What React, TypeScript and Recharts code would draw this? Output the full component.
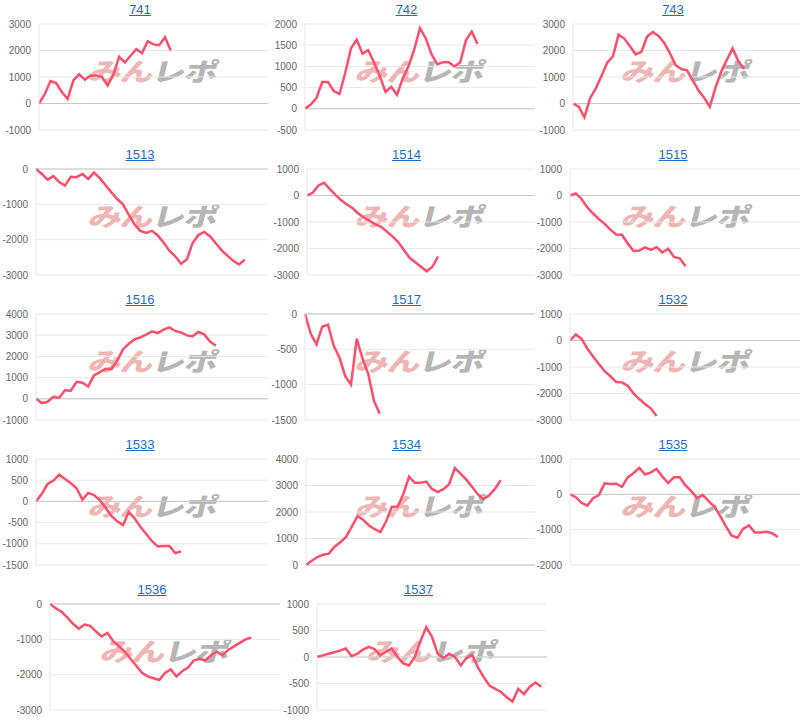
import React from 'react';
import { LineChart, Line, XAxis, YAxis, CartesianGrid, ReferenceLine } from 'recharts';

// every panel shares the same x span (days); shorter series stop early
const X_MAX = 40;

const titles = ['741', '742', '743', '1513', '1514', '1515', '1516', '1517', '1532', '1533', '1534', '1535', '1536', '1537'];

const values741 = [0, 350, 850, 770, 430, 170, 870, 1100, 900, 1050, 1060, 1000, 680, 1100, 1760, 1550, 1800, 2050, 1900, 2350, 2230, 2200, 2500, 2000];
const values742 = [0, 100, 260, 630, 630, 420, 350, 850, 1430, 1630, 1300, 1380, 1090, 780, 400, 520, 330, 720, 1000, 1400, 1900, 1660, 1290, 1050, 1100, 1100, 1000, 1100, 1620, 1820, 1530];
const values743 = [0, -120, -520, 200, 570, 1040, 1540, 1780, 2600, 2450, 2160, 1850, 1950, 2530, 2700, 2550, 2290, 1900, 1450, 1300, 1250, 870, 500, 220, -120, 600, 1200, 1650, 2080, 1600, 1300];
const values1513 = [0, -140, -300, -200, -370, -470, -220, -230, -140, -280, -100, -260, -460, -660, -850, -1000, -1300, -1570, -1750, -1810, -1750, -1880, -2080, -2310, -2470, -2680, -2560, -2100, -1870, -1780, -1900, -2100, -2300, -2450, -2600, -2700, -2570];
const values1514 = [0, 100, 380, 480, 240, 20, -180, -340, -480, -680, -830, -960, -1090, -1180, -1360, -1540, -1760, -2060, -2350, -2520, -2690, -2860, -2690, -2300];
const values1515 = [0, 80, -130, -450, -680, -890, -1070, -1290, -1470, -1480, -1810, -2090, -2080, -1960, -2050, -1950, -2150, -2010, -2320, -2370, -2670];
const values1516 = [0, -200, -140, 90, 50, 400, 380, 800, 760, 580, 1100, 1260, 1420, 1400, 1800, 2330, 2600, 2800, 2900, 3030, 3180, 3100, 3260, 3370, 3200, 3130, 2990, 2950, 3150, 3040, 2700, 2500];
const values1517 = [0, -280, -430, -180, -150, -450, -620, -880, -1000, -350, -630, -850, -1230, -1410];
const values1532 = [0, 230, 60, -300, -600, -890, -1160, -1350, -1570, -1580, -1710, -2000, -2210, -2400, -2570, -2850];
const values1533 = [0, 180, 410, 490, 630, 530, 430, 310, 40, 200, 150, 30, -150, -340, -470, -560, -250, -400, -600, -770, -940, -1060, -1050, -1050, -1220, -1180];
const values1534 = [0, 160, 300, 390, 430, 690, 860, 1060, 1450, 1850, 1700, 1490, 1350, 1240, 1650, 2200, 2200, 2680, 3330, 3100, 3100, 3150, 2870, 2750, 2860, 3050, 3660, 3450, 3220, 2950, 2670, 2480, 2630, 2870, 3200];
const values1535 = [0, -80, -240, -320, -110, -20, 310, 290, 300, 210, 480, 600, 750, 560, 620, 720, 500, 320, 480, 480, 250, 90, -100, -20, -190, -350, -610, -910, -1170, -1230, -970, -880, -1080, -1080, -1060, -1100, -1210];
const values1536 = [0, -120, -220, -380, -560, -700, -580, -620, -780, -920, -820, -1050, -1200, -1350, -1550, -1750, -1950, -2050, -2100, -2150, -1950, -1850, -2050, -1900, -1800, -1600, -1550, -1600, -1450, -1350, -1450, -1300, -1200, -1100, -1000, -950];
const values1537 = [0, 30, 60, 90, 120, 160, 20, 60, 140, 190, 150, 30, 100, 160, 0, -120, -160, 0, 300, 560, 380, 60, -20, 60, 0, -160, -20, 40, -200, -380, -540, -600, -660, -760, -840, -600, -700, -560, -480, -560];

const ticks741 = [-1000, 0, 1000, 2000, 3000];
const ticks742 = [-500, 0, 500, 1000, 1500, 2000];
const ticks743 = [-1000, 0, 1000, 2000, 3000];
const ticks1513 = [-3000, -2000, -1000, 0];
const ticks1514 = [-3000, -2000, -1000, 0, 1000];
const ticks1515 = [-3000, -2000, -1000, 0, 1000];
const ticks1516 = [-1000, 0, 1000, 2000, 3000, 4000];
const ticks1517 = [-1500, -1000, -500, 0];
const ticks1532 = [-3000, -2000, -1000, 0, 1000];
const ticks1533 = [-1500, -1000, -500, 0, 500, 1000];
const ticks1534 = [0, 1000, 2000, 3000, 4000];
const ticks1535 = [-2000, -1000, 0, 1000];
const ticks1536 = [-3000, -2000, -1000, 0];
const ticks1537 = [-1000, -500, 0, 500, 1000];

const allValues = [values741, values742, values743, values1513, values1514, values1515, values1516, values1517, values1532, values1533, values1534, values1535, values1536, values1537];
const allTicks = [ticks741, ticks742, ticks743, ticks1513, ticks1514, ticks1515, ticks1516, ticks1517, ticks1532, ticks1533, ticks1534, ticks1535, ticks1536, ticks1537];

// left edge of each plot area (px)
const plotLefts = [39, 38, 40, 36, 40, 37, 36, 38, 37, 36, 39, 37, 38, 38];

const CELL_W = 266.5;
const CELL_H = 145;
const LINE_COLOR = '#ff4f6d';

const Watermark = () => (
  <div
    style={{
      position: 'absolute',
      left: 90,
      top: 53,
      fontFamily: '"Noto Sans CJK JP", sans-serif',
      fontWeight: 900,
      fontSize: 28,
      lineHeight: '34px',
      letterSpacing: -1,
      transform: 'skewX(-14deg) scale(1.18, 0.9)',
      transformOrigin: 'left center',
      whiteSpace: 'nowrap',
      pointerEvents: 'none',
    }}
  >
    <span style={{ color: '#efb6b6' }}>みん</span>
    <span style={{ color: '#b6b6b6' }}>レポ</span>
  </div>
);

const MiniChart = ({ index }: { index: number }) => {
  const row = Math.floor(index / 3);
  const col = index % 3;
  const shift = row === 4 ? 12 : 0;
  const ticks = allTicks[index];
  const data = allValues[index].map((v, i) => ({ x: i, v }));

  return (
    <div style={{ position: 'absolute', left: col * CELL_W + shift, top: row * CELL_H, width: 270, height: CELL_H }}>
      <div
        style={{
          position: 'absolute',
          left: 0,
          top: 2,
          width: 280,
          textAlign: 'center',
          fontFamily: 'Arial, "Liberation Sans", sans-serif',
          fontSize: 13,
          lineHeight: '16px',
          color: '#1a6dcc',
          textDecoration: 'underline',
        }}
      >
        {titles[index]}
      </div>
      <Watermark />
      <div style={{ position: 'absolute', left: 0, top: 0 }}>
        <LineChart width={268} height={140} data={data} margin={{ top: 24, right: 0, bottom: 10, left: 0 }}>
          <CartesianGrid vertical={false} stroke="#e8e8e8" />
          <XAxis type="number" dataKey="x" domain={[0, X_MAX]} hide />
          <YAxis
            type="number"
            width={plotLefts[index]}
            domain={[ticks[0], ticks[ticks.length - 1]]}
            ticks={ticks}
            interval={0}
            tickLine={false}
            axisLine={{ stroke: '#e6e6e6' }}
            tick={{ fontSize: 10, fill: '#666', fontFamily: 'Arial, "Liberation Sans", sans-serif' }}
          />
          <ReferenceLine y={0} stroke="#c8c8c8" />
          <Line
            type="linear"
            dataKey="v"
            stroke={LINE_COLOR}
            strokeWidth={2.5}
            dot={false}
            isAnimationActive={false}
          />
        </LineChart>
      </div>
    </div>
  );
};

export default function App() {
  return (
    <div style={{ position: 'absolute', left: 0, top: 0, width: 800, height: 727, background: '#fff', overflow: 'hidden' }}>
      {titles.map((t, i) => (
        <MiniChart key={t} index={i} />
      ))}
    </div>
  );
}
